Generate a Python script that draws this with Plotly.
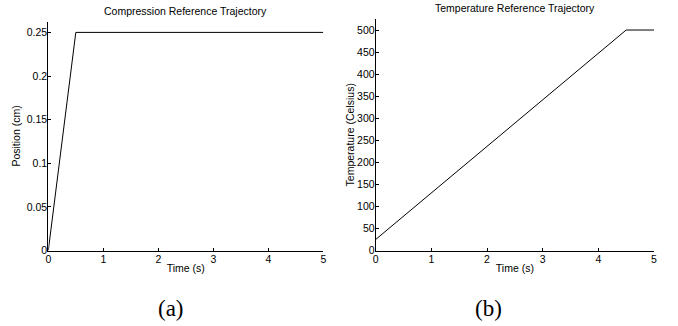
import plotly.graph_objects as go

# Data
comp_time = [0, 0.5, 5]
comp_position = [0, 0.25, 0.25]
temp_time = [0, 4.5, 5]
temp_celsius = [25, 500, 500]

x_ticks = [0, 1, 2, 3, 4, 5]
pos_ticks = [0, 0.05, 0.1, 0.15, 0.2, 0.25]
pos_ticklabels = ["0", "0.05", "0.1", "0.15", "0.2", "0.25"]
temp_ticks = [0, 50, 100, 150, 200, 250, 300, 350, 400, 450, 500]

W, H = 678, 326
sans = "Liberation Sans, Arial, Helvetica, sans-serif"
serif = "Liberation Serif, Times New Roman, serif"
FS = 10.5

fig = go.Figure()
fig.add_trace(go.Scatter(x=comp_time, y=comp_position, mode="lines",
                         line=dict(color="black", width=1), xaxis="x", yaxis="y",
                         showlegend=False, hoverinfo="skip"))
fig.add_trace(go.Scatter(x=temp_time, y=temp_celsius, mode="lines",
                         line=dict(color="black", width=1), xaxis="x2", yaxis="y2",
                         showlegend=False, hoverinfo="skip"))

axis_common = dict(showline=True, linecolor="black", linewidth=1, ticks="inside",
                   ticklen=3, tickcolor="black", tickwidth=1, showgrid=False,
                   zeroline=False, mirror=False, automargin=False,
                   tickfont=dict(family=sans, size=FS, color="black"))

def px_x(p):
    return p / W

def px_y(p):
    return 1 - p / H

tfont = dict(family=sans, size=FS, color="black")

fig.update_layout(
    width=W, height=H,
    margin=dict(l=0, r=0, t=0, b=0, pad=0, autoexpand=False),
    paper_bgcolor="white", plot_bgcolor="white",
    xaxis=dict(domain=[px_x(48.3), px_x(323.3)], range=[0, 5], tickvals=x_ticks,
               anchor="y", title=dict(text="Time (s)", font=tfont, standoff=0),
               ticklabelstandoff=-1, **axis_common),
    yaxis=dict(domain=[px_y(250.5), px_y(21.5)], range=[0, 0.2625], tickvals=pos_ticks,
               ticktext=pos_ticklabels, anchor="x",
               title=dict(text="Position (cm)", font=tfont, standoff=4),
               ticklabelstandoff=-2, **axis_common),
    xaxis2=dict(domain=[px_x(375.7), px_x(654)], range=[0, 5], tickvals=x_ticks,
                anchor="y2", title=dict(text="Time (s)", font=tfont, standoff=0),
                ticklabelstandoff=-1, **axis_common),
    yaxis2=dict(domain=[px_y(250.5), px_y(19)], range=[0, 525], tickvals=temp_ticks,
                anchor="x2",
                title=dict(text="Temperature (Celsius)", font=tfont, standoff=0),
                ticklabelstandoff=-2, **axis_common),
    annotations=[
        dict(text="Compression Reference Trajectory", x=px_x(185.8), y=px_y(10.7), xref="paper", yref="paper",
             showarrow=False, xanchor="center", yanchor="middle", font=tfont),
        dict(text="Temperature Reference Trajectory", x=px_x(514.8), y=px_y(8.3), xref="paper", yref="paper",
             showarrow=False, xanchor="center", yanchor="middle", font=tfont),
        dict(text="(a)", x=px_x(170.8), y=px_y(308), xref="paper", yref="paper",
             showarrow=False, xanchor="center", yanchor="middle", font=dict(family=serif, size=23, color="black")),
        dict(text="(b)", x=px_x(488.8), y=px_y(308), xref="paper", yref="paper",
             showarrow=False, xanchor="center", yanchor="middle", font=dict(family=serif, size=23, color="black")),
    ],
)

fig.write_html("out.html", config={"displayModeBar": False},
               post_script="document.body.style.margin='0';")
